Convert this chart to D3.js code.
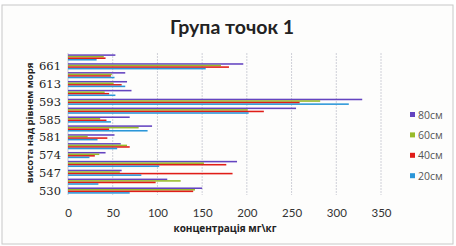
<!DOCTYPE html>
<html>
<head>
<meta charset="utf-8">
<script src="https://cdn.jsdelivr.net/npm/d3@7/dist/d3.min.js"></script>
<style>
  body { margin: 0; background: #fff; }
  svg { display: block; }
  text { fill: #222; }
</style>
</head>
<body>
<svg class="chart" width="456" height="246"></svg>
<script>
"use strict";

// altitude categories, bottom to top (only every other one is labelled)
var categories = ['530', '', '547', '', '574', '', '581', '', '585', '', '593', '', '613', '', '661', ''];
var seriesNames = ['80см', '60см', '40см', '20см'];
var s80 = [150, 111, 60, 189, 42, 59, 52, 94, 69, 255, 329, 71, 66, 64, 196, 53];
var s60 = [142, 126, 58, 152, 35, 66, 22, 79, 36, 201, 282, 41, 51, 49, 171, 40];
var s40 = [140, 98, 184, 177, 30, 69, 44, 46, 43, 219, 259, 46, 60, 48, 180, 42];
var s20 = [69, 34, 82, 102, 24, 55, 33, 89, 48, 202, 314, 53, 64, 52, 154, 32];
var xTicks = [0, 50, 100, 150, 200, 250, 300, 350];

var colors = {'80см': '#6444c0', '60см': '#98bb2a', '40см': '#e01d18', '20см': '#2b96d8'};
var values = {'80см': s80, '60см': s60, '40см': s40, '20см': s20};

var chart = d3.select('.chart');

chart.append('rect')
  .attr('x', 2).attr('y', 5).attr('width', 451).attr('height', 239)
  .attr('fill', '#fdfdfc').attr('stroke', '#c8c8c8');

var x = d3.scaleLinear().domain([0, 350]).range([68, 381]);
var y0 = d3.scaleBand().domain(d3.range(categories.length)).range([195, 53])
  .paddingInner(0.3).paddingOuter(0.15);
var y1 = d3.scaleBand().domain(seriesNames).range([0, y0.bandwidth()]);

// gridlines
chart.append('g').selectAll('line')
  .data(xTicks.slice(1))
  .enter().append('line')
  .attr('x1', function (d) { return x(d); })
  .attr('x2', function (d) { return x(d); })
  .attr('y1', 53).attr('y2', 195)
  .attr('stroke', '#cfd0d8').attr('stroke-dasharray', '2,1');

// left axis line
chart.append('line')
  .attr('x1', 68).attr('x2', 68).attr('y1', 53).attr('y2', 195)
  .attr('stroke', '#c9c9d0');

// bars
var groups = chart.append('g').selectAll('g')
  .data(categories.map(function (c, i) { return i; }))
  .enter().append('g')
  .attr('transform', function (i) { return 'translate(0,' + y0(i) + ')'; });

groups.selectAll('rect')
  .data(function (i) {
    return seriesNames.map(function (s) { return {s: s, v: values[s][i]}; });
  })
  .enter().append('rect')
  .attr('x', x(0))
  .attr('y', function (d) { return y1(d.s); })
  .attr('width', function (d) { return x(d.v) - x(0); })
  .attr('height', y1.bandwidth())
  .attr('fill', function (d) { return colors[d.s]; });

// y labels
chart.append('g').selectAll('text')
  .data(categories.map(function (c, i) { return {c: c, i: i}; }).filter(function (d) { return d.c; }))
  .enter().append('text')
  .attr('x', 61)
  .attr('y', function (d) { return y0(d.i) + y0.bandwidth() / 2; })
  .attr('dy', '0.36em')
  .attr('text-anchor', 'end')
  .style('font', '11.5px "DejaVu Serif"')
  .text(function (d) { return d.c; });

// x axis
var xAxis = chart.append('g')
  .attr('transform', 'translate(0,195)')
  .call(d3.axisBottom(x).tickValues(xTicks).tickSize(0).tickPadding(14));
xAxis.select('.domain').remove();
xAxis.selectAll('text').style('font', '11.5px Lato').style('fill', '#333');

// titles
chart.append('text')
  .attr('x', 232).attr('y', 34)
  .attr('text-anchor', 'middle')
  .style('font', 'bold 19.5px Lato')
  .text('Група точок 1');

chart.append('text')
  .attr('x', 225).attr('y', 232)
  .attr('text-anchor', 'middle')
  .style('font', 'bold 10px "Open Sans"')
  .text('концентрація мг\\кг');

chart.append('text')
  .attr('transform', 'translate(33,123) rotate(-90)')
  .attr('text-anchor', 'middle')
  .style('font', 'bold 9.5px "Open Sans"')
  .text('висота над рівнем моря');

// legend
var legend = chart.append('g').selectAll('g')
  .data(seriesNames)
  .enter().append('g')
  .attr('transform', function (d, i) { return 'translate(410,' + (115 + i * 20.4) + ')'; });
legend.append('rect')
  .attr('x', 0).attr('y', -3).attr('width', 5).attr('height', 5)
  .attr('fill', function (d) { return colors[d]; });
legend.append('text')
  .attr('x', 8).attr('dy', '0.35em')
  .style('font', '10.5px "Open Sans"').style('fill', '#555')
  .text(function (d) { return d; });
</script>
</body>
</html>
